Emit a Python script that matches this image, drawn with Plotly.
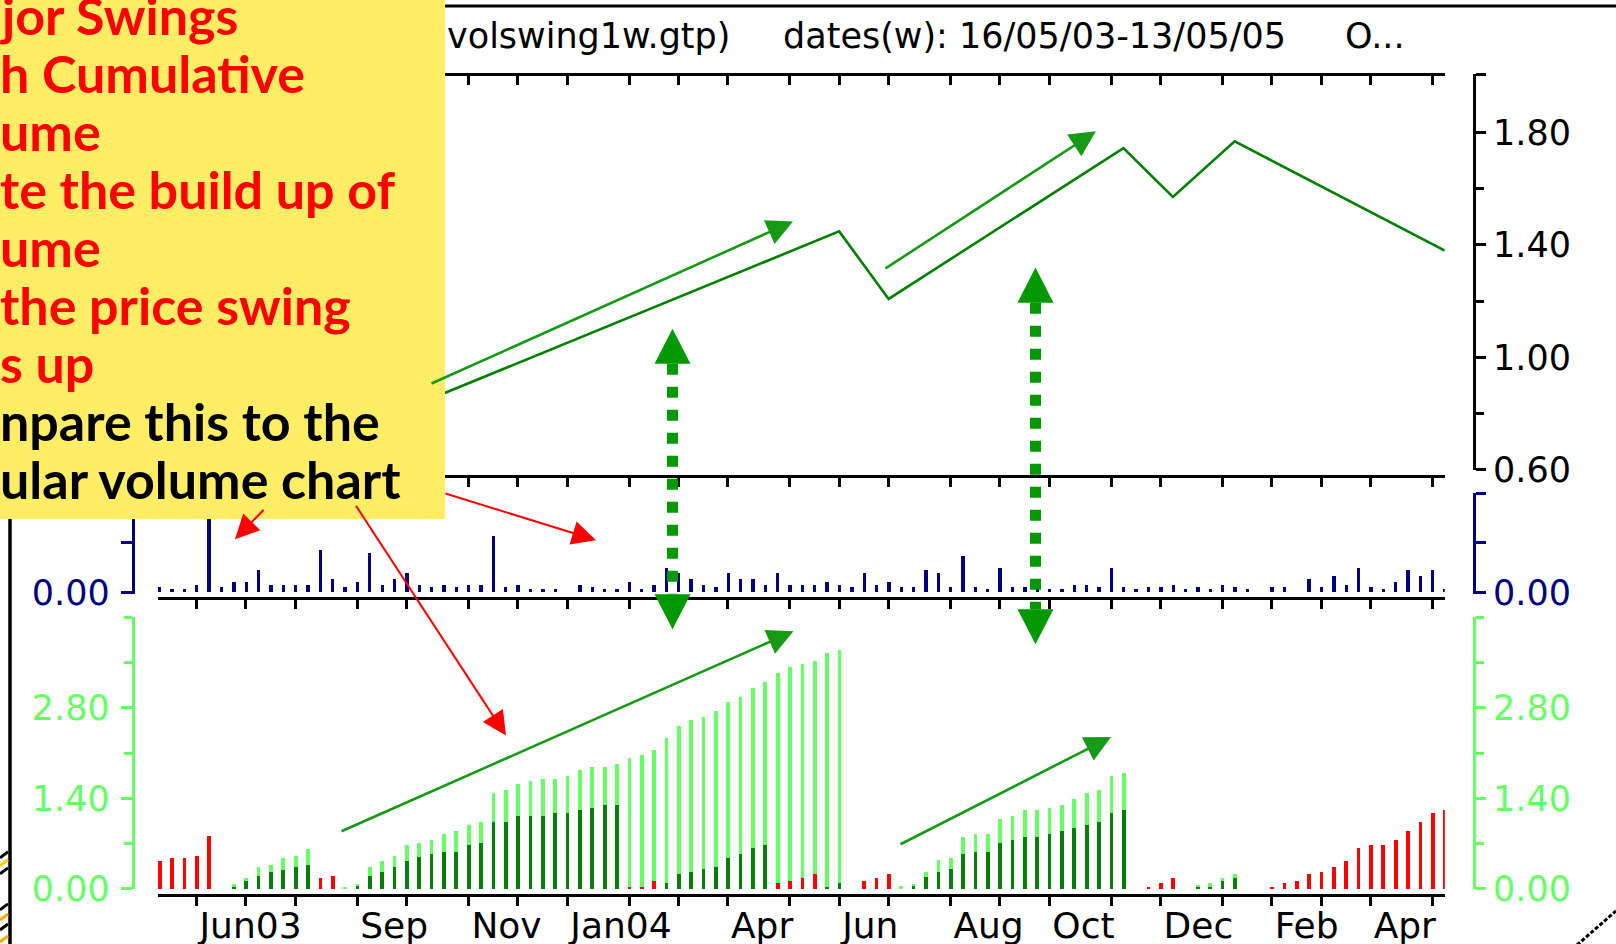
import plotly.graph_objects as go

W, H = 1616, 944
FIG_H = 966  # the page photo squeezes the height back to 944
SQ = FIG_H / H

# weekly bars 16/05/03 .. 13/05/05, x = week number
weeks = list(range(105))

# first weekly bar of every month, and the labels shown under them
month_weeks = [3, 7, 11, 16, 20, 25, 29, 33, 38, 42, 46, 51, 55, 59, 64, 68, 72, 77, 81, 86, 90, 94, 98, 103]
month_text = ["Jun03", "", "", "Sep", "", "Nov", "", "Jan04", "", "", "Apr", "",
              "Jun", "", "Aug", "", "Oct", "", "Dec", "", "Feb", "", "Apr", ""]

# major swing turning points (week, price)
swing_weeks = [0, 5, 12, 14, 55, 59, 78, 82, 87, 104]
swing_price = [0.80, 0.66, 0.79, 0.71, 1.448, 1.208, 1.744, 1.570, 1.768, 1.380]

# weekly volume
volume = [
    0.05, 0.03, 0.03, 0.074, 0.90, 0.05, 0.107, 0.107, 0.228, 0.074,
    0.074, 0.074, 0.074, 0.426, 0.138, 0.05, 0.107, 0.40, 0.074, 0.138,
    0.195, 0.074, 0.05, 0.074, 0.05, 0.074, 0.074, 0.567, 0.05, 0.074,
    0.03, 0.03, 0.03, 0.0, 0.074, 0.05, 0.03, 0.03, 0.107, 0.03,
    0.074, 0.248, 0.195, 0.138, 0.074, 0.05, 0.195, 0.138, 0.138, 0.074,
    0.195, 0.074, 0.074, 0.074, 0.107, 0.074, 0.05, 0.195, 0.074, 0.107,
    0.05, 0.05, 0.228, 0.195, 0.05, 0.369, 0.05, 0.03, 0.248, 0.05,
    0.05, 0.074, 0.03, 0.03, 0.074, 0.074, 0.05, 0.248, 0.05, 0.03,
    0.05, 0.05, 0.074, 0.03, 0.05, 0.03, 0.074, 0.05, 0.03, 0.0,
    0.05, 0.05, 0.0, 0.138, 0.05, 0.168, 0.074, 0.248, 0.05, 0.03,
    0.107, 0.228, 0.168, 0.228, 0.03,
]

# cumulative swing volume: down-swing part (red), up part (dark green), bar total
cum_down = [
    0.42, 0.47, 0.47, 0.51, 0.82, 0, 0, 0, 0, 0,
    0, 0, 0, 0.16, 0.20, 0, 0, 0, 0, 0,
    0, 0, 0, 0, 0, 0, 0, 0, 0, 0,
    0, 0, 0, 0, 0, 0, 0, 0, 0.03, 0.03,
    0.12, 0, 0, 0, 0, 0, 0, 0, 0, 0,
    0.08, 0.12, 0.17, 0.22, 0, 0, 0, 0.12, 0.17, 0.22,
    0, 0, 0, 0, 0, 0, 0, 0, 0, 0,
    0, 0, 0, 0, 0, 0, 0, 0, 0, 0,
    0.03, 0.08, 0.17, 0, 0, 0, 0, 0, 0, 0,
    0.03, 0.08, 0.12, 0.22, 0.26, 0.34, 0.43, 0.62, 0.67, 0.67,
    0.75, 0.89, 1.03, 1.17, 1.21,
]
cum_up = [
    0, 0, 0, 0, 0, 0, 0.03, 0.11, 0.20, 0.25,
    0.28, 0.33, 0.37, 0, 0, 0, 0.04, 0.20, 0.25, 0.33,
    0.43, 0.49, 0.53, 0.57, 0.57, 0.67, 0.71, 1.03, 1.03, 1.12,
    1.12, 1.12, 1.17, 1.17, 1.21, 1.24, 1.29, 1.29, 0, 0,
    0, 0.08, 0.22, 0.26, 0.30, 0.34, 0.48, 0.53, 0.62, 0.67,
    0, 0, 0, 0, 0.03, 0.08, 0, 0, 0, 0,
    0, 0.04, 0.18, 0.26, 0.30, 0.53, 0.57, 0.57, 0.71, 0.75,
    0.79, 0.79, 0.84, 0.89, 0.93, 0.98, 1.03, 1.17, 1.21, 0,
    0, 0, 0, 0, 0.03, 0.03, 0.12, 0.17, 0, 0,
    0, 0, 0, 0, 0, 0, 0, 0, 0, 0,
    0, 0, 0, 0, 0,
]
cum_total = [
    0, 0, 0, 0, 0, 0, 0.07, 0.16, 0.33, 0.37,
    0.47, 0.51, 0.61, 0, 0, 0.03, 0.06, 0.33, 0.42, 0.51,
    0.67, 0.71, 0.75, 0.84, 0.89, 0.98, 1.03, 1.48, 1.52, 1.62,
    1.66, 1.70, 1.70, 1.74, 1.84, 1.88, 1.88, 1.93, 2.02, 2.07,
    2.15, 2.33, 2.52, 2.61, 2.65, 2.74, 2.88, 2.97, 3.10, 3.19,
    3.33, 3.42, 3.47, 3.52, 3.64, 3.69, 0, 0, 0, 0,
    0.04, 0.06, 0.26, 0.44, 0.48, 0.79, 0.84, 0.84, 1.07, 1.12,
    1.21, 1.21, 1.24, 1.29, 1.38, 1.48, 1.52, 1.74, 1.79, 0,
    0, 0, 0, 0, 0.06, 0.08, 0.17, 0.22, 0, 0,
    0, 0, 0, 0, 0, 0, 0, 0, 0, 0,
    0, 0, 0, 0, 0,
]
cum_light = [max(t - d - u, 0) for t, d, u in zip(cum_total, cum_down, cum_up)]

price_ticks = [0.6, 1.0, 1.4, 1.8]
vol_ticks = [0, 0.5, 1.0]
cum_ticks = [0, 1.4, 2.8]

box_lines = ["jor Swings", "h Cumulative", "ume", "te the build up of", "ume",
             "the price swing", "s up", "npare this to the", "ular volume chart"]
box_colors = ["#ff0000"] * 7 + ["#000000"] * 2

NAVY = "#000080"
LGREEN = "#66ff66"
DGREEN = "#067d06"
RED = "#ff0000"


def px(x):
    return x / W


def py(y):
    return 1 - y / H


fig = go.Figure()

fig.add_trace(go.Scatter(x=swing_weeks, y=swing_price, mode="lines",
                         line=dict(color="#008000", width=2.6),
                         xaxis="x3", yaxis="y"))
fig.add_trace(go.Scatter(x=[None], y=[None], xaxis="x4", yaxis="y"))

fig.add_trace(go.Bar(x=weeks, y=volume, marker_color=NAVY, marker_line_width=0,
                     width=0.27, xaxis="x2", yaxis="y2"))
fig.add_trace(go.Scatter(x=[None], y=[None], xaxis="x2", yaxis="y5"))

fig.add_trace(go.Bar(x=weeks, y=cum_down, marker_color=RED, marker_line_width=0,
                     width=0.3, xaxis="x", yaxis="y3"))
fig.add_trace(go.Bar(x=weeks, y=cum_up, marker_color=DGREEN, marker_line_width=0,
                     width=0.3, xaxis="x", yaxis="y3"))
fig.add_trace(go.Bar(x=weeks, y=cum_light, marker_color=LGREEN, marker_line_width=0,
                     width=0.3, xaxis="x", yaxis="y3"))
fig.add_trace(go.Scatter(x=[None], y=[None], xaxis="x", yaxis="y6"))

xdom = [px(157.7), px(1444.8)]
xline = dict(showgrid=False, zeroline=False, showline=True, linecolor="black", linewidth=3,
             ticks="outside", tickcolor="black", tickwidth=3, ticklen=9,
             tickvals=month_weeks, anchor="free", domain=xdom)

tick_font = dict(family="DejaVu Sans", size=35)


def yline(color, side, pos):
    return dict(showgrid=False, zeroline=False, showline=True, linecolor=color, linewidth=3,
                ticks="outside", tickcolor=color, tickwidth=3,
                ticklen=10 if side == "right" else 11,
                tickfont=dict(tick_font, color=color), side=side,
                anchor="free", position=px(pos), ticklabelstandoff=0 if side == "right" else 4)


price_top = 0.6 + (469 - 74) / 280.8

fig.update_layout(
    width=W, height=FIG_H, autosize=False,
    margin=dict(l=0, r=0, t=0, b=0),
    paper_bgcolor="white", plot_bgcolor="rgba(0,0,0,0)",
    showlegend=False, hovermode=False, barmode="stack", bargap=0,
    xaxis=dict(xline, range=[-0.1375, 104.0], position=py(893),
               ticktext=month_text, showticklabels=True,
               ticklabelposition="outside right", ticklabelstandoff=-2,
               tickfont=dict(tick_font, size=36, color="black")),
    xaxis2=dict(xline, matches="x", position=py(596.5), showticklabels=False),
    xaxis3=dict(xline, matches="x", position=py(475), showticklabels=False),
    xaxis4=dict(xline, matches="x", position=py(74), showticklabels=False),
    yaxis=dict(yline("black", "right", 1474), domain=[py(469), py(74)],
               range=[0.6, price_top],
               tickvals=price_ticks + [price_top],
               ticktext=["%.2f" % v for v in price_ticks] + [""],
               minor=dict(tickvals=[0.8, 1.2, 1.6], ticks="outside", ticklen=8,
                          tickwidth=3, tickcolor="black")),
    yaxis2=dict(yline(NAVY, "right", 1474), domain=[py(593), py(492)],
                range=[-0.02, 1.0], tickvals=vol_ticks,
                ticktext=["0.00", "", ""]),
    yaxis5=dict(yline(NAVY, "left", 132.7), overlaying="y2",
                range=[-0.02, 1.0], tickvals=vol_ticks,
                ticktext=["0.00", "", ""]),
    yaxis3=dict(yline(LGREEN, "right", 1474), domain=[py(887), py(616)],
                range=[0, 4.2], tickvals=cum_ticks,
                ticktext=["%.2f" % v for v in cum_ticks],
                minor=dict(tickvals=[0.7, 2.1, 3.5, 4.2], ticks="outside", ticklen=8,
                           tickwidth=3, tickcolor=LGREEN)),
    yaxis6=dict(yline(LGREEN, "left", 132.7), overlaying="y3",
                range=[0, 4.2], tickvals=cum_ticks,
                ticktext=["%.2f" % v for v in cum_ticks],
                minor=dict(tickvals=[0.7, 2.1, 3.5, 4.2], ticks="outside", ticklen=8,
                           tickwidth=3, tickcolor=LGREEN)),
)

shapes = []
# frame decorations of the slide
shapes.append(dict(type="line", xref="paper", yref="paper", x0=0, x1=1, y0=py(6), y1=py(6),
                   line=dict(color="black", width=3)))
shapes.append(dict(type="line", xref="paper", yref="paper", x0=px(10), x1=px(10), y0=py(500), y1=0,
                   line=dict(color="black", width=3.5)))
for y0, col in [(850, "black"), (858, "#ffcc00"), (866, "black"), (902, "black"),
                (912, "#ffaa00"), (922, "black"), (934, "#ffaa00")]:
    shapes.append(dict(type="line", xref="paper", yref="paper", x0=0, x1=px(8),
                       y0=py(y0 + 6), y1=py(y0), line=dict(color=col, width=3)))
shapes.append(dict(type="line", xref="paper", yref="paper", x0=px(1577), x1=px(1616),
                   y0=py(943), y1=py(909), line=dict(color="black", width=3, dash="4px,2px")))

# dotted double arrows
DOT = "#009a00"
for xc, top_tip, top_base, bot_base, bot_tip in [(672.5, 328, 363, 593, 628),
                                                  (1035.5, 267, 302, 608, 643)]:
    shapes.append(dict(type="line", xref="paper", yref="paper", x0=px(xc), x1=px(xc),
                       y0=py(top_base), y1=py(bot_base),
                       line=dict(color=DOT, width=11, dash="11px,12px")))
    for tip, base in [(top_tip, top_base), (bot_tip, bot_base)]:
        path = "M %f,%f L %f,%f L %f,%f Z" % (px(xc - 18), py(base), px(xc + 18), py(base),
                                              px(xc), py(tip))
        shapes.append(dict(type="path", xref="paper", yref="paper", path=path,
                           fillcolor=DOT, line=dict(width=0)))

# yellow note box
shapes.append(dict(type="rect", xref="paper", yref="paper", x0=0, x1=px(445), y0=py(518), y1=1,
                   fillcolor="#ffed66", line=dict(width=0), layer="above"))
fig.update_layout(shapes=shapes)

ann = []
title_font = dict(family="DejaVu Sans", size=35, color="black")
for txt, x0, anchor in [("volswing1w.gtp)", 732, "right"),
                        ("dates(w): 16/05/03-13/05/05", 781, "left"),
                        ("O...", 1343, "left")]:
    ann.append(dict(text=txt, xref="paper", yref="paper", x=px(x0), y=py(36),
                    xanchor=anchor, yanchor="middle", showarrow=False, font=title_font))

for i, (txt, col) in enumerate(zip(box_lines, box_colors)):
    ann.append(dict(text="<b>%s</b>" % txt, xref="paper", yref="paper", x=px(-2),
                    y=py(15.3 + 57.8 * i), xanchor="left", yanchor="middle", showarrow=False,
                    font=dict(family="Lato", size=52, color=col)))

# pointer arrows: (tip x, tip y, tail x, tail y, colour, width, head size)
arrows = [
    (793, 221, 430, 380, "#169a16", 2.6, 2.0),
    (1096, 131, 884, 266, "#169a16", 2.6, 2.0),
    (793.5, 630, 340, 826, "#169a16", 2.6, 2.0),
    (1111, 735.5, 899, 841, "#169a16", 2.6, 2.0),
    (235, 538, 265, 508, RED, 2, 2.4),
    (596, 539, 444, 493, RED, 2, 2.4),
    (506, 734, 355, 508, RED, 2, 2.4),
]
for tx, ty, sx, sy, col, w, hs in arrows:
    ann.append(dict(text="", xref="paper", yref="paper", x=px(tx), y=py(ty),
                    ax=sx - tx, ay=(sy - ty) * SQ, showarrow=True, arrowhead=2,
                    arrowsize=hs, arrowwidth=w, arrowcolor=col, standoff=0))
fig.update_layout(annotations=ann)

fig.write_html("out.html", config={"displayModeBar": False},
               post_script="document.body.style.margin='0px';document.body.style.overflow='hidden';")
